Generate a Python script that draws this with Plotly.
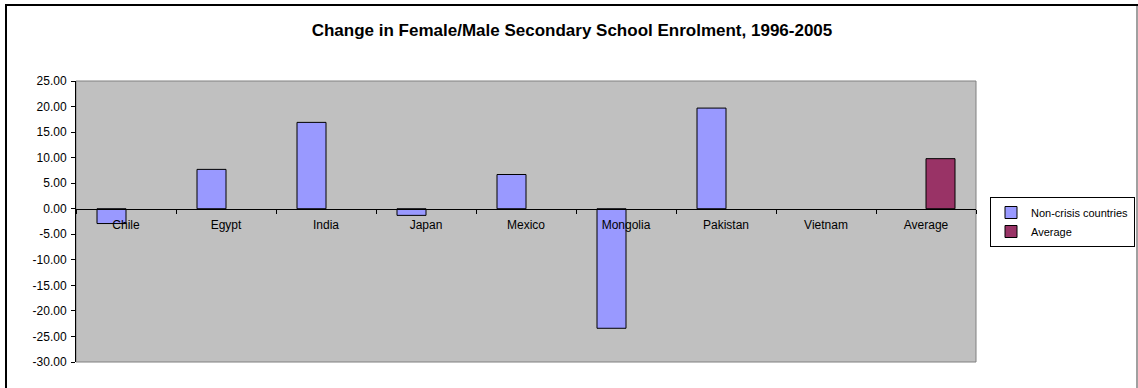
import plotly.graph_objects as go

# Chart data
countries = ["Chile", "Egypt", "India", "Japan", "Mexico", "Mongolia", "Pakistan", "Vietnam", "Average"]
non_crisis = [-2.9, 7.7, 16.9, -1.3, 6.7, -23.4, 19.7, None, None]
average = [None, None, None, None, None, None, None, None, 9.8]
y_ticks = [25, 20, 15, 10, 5, 0, -5, -10, -15, -20, -25, -30]
y_tick_labels = ["25.00", "20.00", "15.00", "10.00", "5.00", "0.00", "-5.00",
                 "-10.00", "-15.00", "-20.00", "-25.00", "-30.00"]

W, H = 1138, 388
L, R, T, B = 76, 162, 81, 26
plot_w = W - L - R
plot_h = H - T - B
y_min, y_max = -30, 25

FONT = "Liberation Sans, Arial, sans-serif"


def px_x(px):
    return (px - L) / plot_w


def px_y(py):
    return (H - B - py) / plot_h


fig = go.Figure()
fig.add_trace(go.Bar(
    x=countries, y=non_crisis, name="Non-crisis countries",
    marker=dict(color="#9999FF", line=dict(color="black", width=1)),
))
fig.add_trace(go.Bar(
    x=countries, y=average, name="Average",
    marker=dict(color="#993366", line=dict(color="black", width=1)),
))

# Outer chart frame and plot-area border
fig.add_shape(type="rect", xref="paper", yref="paper",
              x0=px_x(6), x1=px_x(1137), y0=px_y(395), y1=px_y(5),
              line=dict(color="black", width=2), fillcolor="rgba(0,0,0,0)", layer="below")
fig.add_shape(type="line", xref="paper", yref="paper",
              x0=px_x(1137), x1=px_x(1137), y0=px_y(395), y1=px_y(6),
              line=dict(color="#A0A0A0", width=2), layer="below")
fig.add_shape(type="rect", xref="paper", yref="paper",
              x0=0, x1=1, y0=0, y1=1,
              line=dict(color="#808080", width=1), fillcolor="rgba(0,0,0,0)", layer="below")

fig.update_layout(
    width=W, height=H,
    margin=dict(l=L, r=R, t=T, b=B, autoexpand=False),
    paper_bgcolor="white",
    plot_bgcolor="#C0C0C0",
    barmode="group",
    bargap=0.42,
    bargroupgap=0,
    font=dict(family=FONT, size=12, color="black"),
    title=dict(
        text="<b>Change in Female/Male Secondary School Enrolment, 1996-2005</b>",
        x=572 / W, xanchor="center", xref="container",
        y=1 - 30 / H, yanchor="middle", yref="container",
        font=dict(family=FONT, size=17, color="black"),
    ),
    xaxis=dict(
        type="category",
        categoryorder="array", categoryarray=countries,
        anchor="free", position=(0 - y_min) / (y_max - y_min),
        showline=True, linecolor="black", linewidth=1,
        ticks="outside", ticklen=4, tickcolor="black", tickson="boundaries",
        showgrid=False, zeroline=False,
        tickfont=dict(family=FONT, size=12, color="black"),
        ticklabelstandoff=5,
    ),
    yaxis=dict(
        range=[y_min, y_max],
        tickvals=y_ticks, ticktext=y_tick_labels,
        showline=True, linecolor="black", linewidth=1,
        ticks="outside", ticklen=4, tickcolor="black",
        showgrid=False, zeroline=False,
        tickfont=dict(family=FONT, size=12, color="black"),
        ticklabelstandoff=2,
    ),
    legend=dict(
        x=px_x(990), xanchor="left",
        y=px_y(222), yanchor="middle",
        bgcolor="white", bordercolor="black", borderwidth=1,
        font=dict(family=FONT, size=11, color="black"),
        itemwidth=30,
        tracegroupgap=0,
    ),
    showlegend=True,
)

fig.write_html("out.html")
